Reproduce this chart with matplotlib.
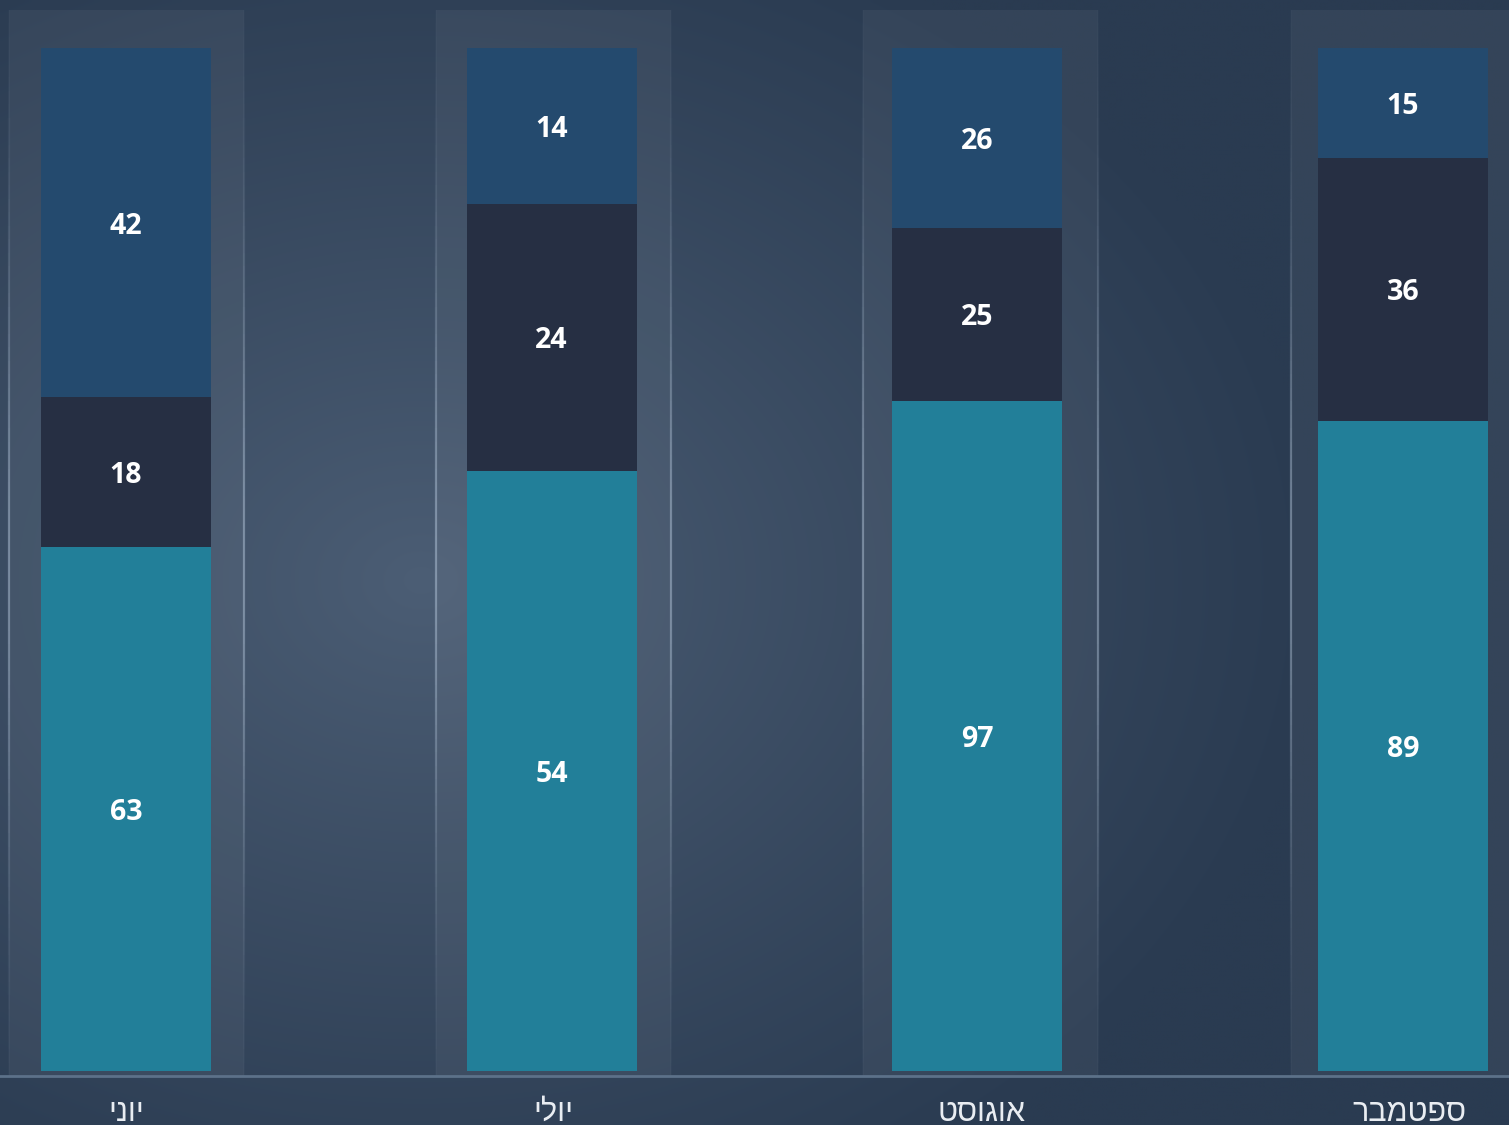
import numpy as np
import matplotlib
matplotlib.use('Agg')
import matplotlib.pyplot as plt
from matplotlib.patches import Rectangle
from matplotlib.collections import LineCollection

# data
months = ['יוני', 'יולי', 'אוגוסט', 'ספטמבר']
bottom_vals = [63, 54, 97, 89]
mid_vals = [18, 24, 25, 36]
top_vals = [42, 14, 26, 15]

colors = ['#227f99', '#262f43', '#244a6e']

W, H = 1509, 1125
fig = plt.figure(figsize=(W / 100, H / 100), dpi=100)

# background gradient
bg = fig.add_axes([0, 0, 1, 1], zorder=0)
yy, xx = np.mgrid[0:H:4, 0:W:4]
d = np.sqrt(((xx - 420) / 900.0) ** 2 + ((yy - 580) / 700.0) ** 2)
t = np.clip(d, 0, 1) ** 0.9
c0 = np.array([0x4c, 0x5e, 0x75]) / 255.0
c1 = np.array([0x2a, 0x3b, 0x51]) / 255.0
img = c0[None, None, :] * (1 - t[..., None]) + c1[None, None, :] * t[..., None]
bg.imshow(img, extent=[0, W, H, 0], aspect='auto', interpolation='bilinear')
bg.set_xlim(0, W)
bg.set_ylim(H, 0)
bg.axis('off')

ax = fig.add_axes([0, 0, 1, 1], zorder=1)
ax.patch.set_alpha(0)
step = 425.67
ppu = 10.23  # pixels per percent
ax.set_xlim(-126 / step, (W - 126) / step)
ax.set_ylim(-54 / ppu, (H - 54) / ppu)
ax.axis('off')

x = np.arange(len(months))
bottom_vals = np.array(bottom_vals, float)
mid_vals = np.array(mid_vals, float)
top_vals = np.array(top_vals, float)
total = bottom_vals + mid_vals + top_vals
p_bot = bottom_vals / total * 100
p_mid = mid_vals / total * 100
p_top = top_vals / total * 100

# column panels behind the bars
panel_w = 235 / step
panel_top = (H - 10 - 54) / ppu
base_y = -0.5
segs, cols = [], []
ys = np.linspace(base_y, panel_top, 80)
for i in x:
    pc = i * 1.004
    ax.add_patch(Rectangle((pc - panel_w / 2, base_y), panel_w, panel_top - base_y,
                           facecolor='white', alpha=0.05, edgecolor='none', zorder=1))
    for ex in (pc - panel_w / 2, pc + panel_w / 2):
        for k in range(len(ys) - 1):
            ym = (ys[k] + ys[k + 1]) / 2
            a = 0.4 * np.exp(-((ym - 50) / 30) ** 2)
            segs.append([(ex, ys[k]), (ex, ys[k + 1])])
            cols.append((0.8, 0.87, 0.95, a))
ax.add_collection(LineCollection(segs, colors=cols, linewidths=1.6, zorder=1.5))

bw = 170 / step
ax.bar(x, p_bot, bw, color=colors[0], zorder=2)
ax.bar(x, p_mid, bw, bottom=p_bot, color=colors[1], zorder=2)
ax.bar(x, p_top, bw, bottom=p_bot + p_mid, color=colors[2], zorder=2)

for i in x:
    for val, b, h in ((bottom_vals[i], 0, p_bot[i]),
                      (mid_vals[i], p_bot[i], p_mid[i]),
                      (top_vals[i], p_bot[i] + p_mid[i], p_top[i])):
        ax.text(i, b + h / 2, f'{int(val)}', ha='center', va='center_baseline',
                color='white', fontsize=20.5, fontweight='bold',
                family=['Open Sans', 'DejaVu Sans'], zorder=3)

# baseline
ax.axhline(base_y, color='#5c7189', lw=2, zorder=2)

# month labels (reversed for right-to-left display)
for i, m in enumerate(months):
    ax.text(i + i * 0.005, -4.9, m[::-1], ha='center', va='baseline',
            color='#e9edf2', fontsize=22,
            family=['Liberation Sans Narrow', 'Liberation Sans', 'DejaVu Sans'],
            zorder=3)

fig.savefig('out.png', dpi=100)
